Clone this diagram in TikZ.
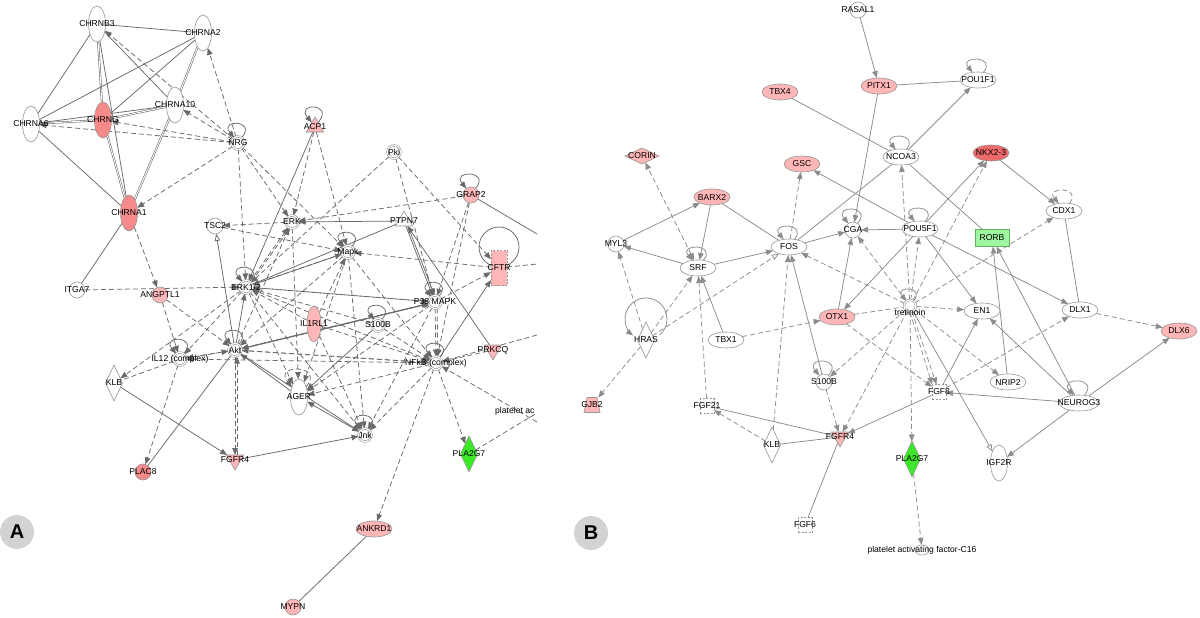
\documentclass[tikz,border=0pt]{standalone}
\usepackage{fontspec}
\setmainfont{Liberation Sans}
\usetikzlibrary{shapes.geometric,arrows.meta}
\definecolor{eA}{RGB}{105,105,105}
\definecolor{eB}{RGB}{140,140,140}
\definecolor{bd}{RGB}{150,150,150}
\definecolor{pk}{RGB}{255,182,182}
\definecolor{pk2}{RGB}{246,138,138}
\definecolor{rd}{RGB}{238,105,105}
\definecolor{gr}{RGB}{60,232,40}
\definecolor{lgr}{RGB}{160,245,160}
\definecolor{lgrb}{RGB}{100,175,100}
\definecolor{circg}{RGB}{211,211,211}
\colorlet{ec}{eA}
\pgfdeclarelayer{bg}
\pgfsetlayers{bg,main}
\newcommand\sloop[3][ar]{\draw[#1] (#2.55) .. controls +(50:#3) and +(130:#3) .. (#2.125);}
\tikzset{
  every node/.style={font=\fontsize{8.6}{9.5}\selectfont},
  lab/.style={label={center:#1}},
  nb/.style={draw=bd, line width=0.6pt, inner sep=0pt, outer sep=0pt, fill=white},
  vell/.style={nb, ellipse, minimum width=17pt, minimum height=36pt},
  hell/.style={nb, ellipse, minimum width=36pt, minimum height=16pt},
  circ/.style={nb, circle, minimum size=16pt},
  dcirc/.style={nb, circle, minimum size=13pt, double=white, double distance=1.1pt},
  tri/.style={nb, regular polygon, regular polygon sides=3, minimum size=20pt},
  dtri/.style={tri, shape border rotate=180},
  vdia/.style={nb, diamond, minimum width=17pt, minimum height=36pt},
  hdia/.style={nb, diamond, minimum width=34pt, minimum height=16pt},
  rbox/.style={nb, rectangle, minimum width=16pt, minimum height=35pt},
  dbox/.style={nb, rectangle, dash pattern=on 2pt off 1.5pt, minimum width=14pt, minimum height=15pt},
  ed/.style={draw=ec, line width=0.75pt},
  ar/.style={ed, -{Triangle[length=7pt,width=5.5pt]}},
  oa/.style={ed, -{Triangle[open,length=7pt,width=5.5pt,fill=white]}},
  ba/.style={ed, {Triangle[length=7pt,width=5.5pt]}-{Triangle[length=7pt,width=5.5pt]}},
  dpat/.style={dash pattern=on 5pt off 3pt},
  da/.style={ar, dpat},
  dl/.style={ed, dpat},
  dba/.style={ba, dpat},
  doa/.style={oa, dpat},
  dd/.style={draw=ec, line width=0.55pt, double=white, double distance=0.9pt},
  shr/.style={transform canvas={shift={(2pt,0pt)}}},
  panel/.style={circle, fill=circg, minimum size=34pt, inner sep=0pt, font=\fontsize{20}{20}\selectfont\bfseries},
}
\begin{document}
\begin{tikzpicture}[x=1pt,y=1pt]
\useasboundingbox (0,0) rectangle (1200,-618);
\begin{pgfonlayer}{bg}
\fill[white] (0,0) rectangle (1200,-618);
\end{pgfonlayer}

%================ PANEL A =================
\begin{scope}
\colorlet{ec}{eA}
\node[vell,lab=CHRNB3] (CHRNB3) at (97,-24) {};
\node[vell,lab=CHRNA2] (CHRNA2) at (203,-33) {};
\node[vell,lab=CHRNA10] (CHRNA10) at (175,-105) {};
\node[vell,fill=pk2,lab=CHRNG] (CHRNG) at (103,-120) {};
\node[vell,lab=CHRNA6] (CHRNA6) at (31,-124) {};
\node[dcirc,lab=NRG] (NRG) at (238,-143) {};
\node[vell,fill=pk2,lab=CHRNA1] (CHRNA1) at (129,-213) {};
\node[tri,fill=pk,lab=ACP1] (ACP1) at (315,-127) {};
\node[dcirc,lab=Pki] (Pki) at (394,-152) {};
\node[circ,fill=pk,lab=GRAP2] (GRAP2) at (471,-195) {};
\node[circ,lab=TSC2] (TSC2) at (215,-226) {};
\node[dcirc,lab=ERK] (ERK) at (292,-222) {};
\node[tri,lab=PTPN7] (PTPN7) at (404,-221) {};
\node[dcirc,lab=Mapk] (Mapk) at (348,-252) {};
\node[rbox,fill=pk,dash pattern=on 2pt off 1.5pt,lab=CFTR] (CFTR) at (499,-268) {};
\node[dcirc,lab=ERK1/2] (ERK12) at (246,-287) {};
\node[dcirc,lab=P38 MAPK] (P38) at (435,-302) {};
\node[vell,minimum width=14pt,fill=pk,lab=IL1RL1] (IL1RL1) at (314,-324) {};
\node[dcirc,lab=S100B] (S100Ba) at (378,-325) {};
\node[circ,lab=ITGA7] (ITGA7) at (77,-290) {};
\node[circ,fill=pk,lab=ANGPTL1] (ANGPTL1) at (160,-295) {};
\node[dcirc,lab=Akt] (Akt) at (235,-350) {};
\node[dcirc,lab=IL12 (complex)] (IL12) at (180,-359) {};
\node[vdia,lab=KLB] (KLBa) at (114,-383) {};
\node[dcirc,lab=NFkB (complex)] (NFkB) at (436,-363) {};
\node[dtri,fill=pk,lab=PRKCQ] (PRKCQ) at (493,-350) {};
\node[vell,lab=AGER] (AGER) at (299,-397) {};
\node[dcirc,lab=Jnk] (Jnk) at (365,-435) {};
\node[dtri,fill=pk,lab=FGFR4] (FGFR4a) at (235,-460) {};
\node[circ,fill=pk2,lab=PLAC8] (PLAC8) at (143,-472) {};
\node[vdia,fill=gr,lab=PLA2G7] (PLA2G7a) at (469,-454) {};
\node[anchor=west,inner sep=0pt] (platA) at (495,-411) {platelet ac};
\node[hell,fill=pk,lab=ANKRD1] (ANKRD1) at (374,-529) {};
\node[circ,fill=pk,lab=MYPN] (MYPN) at (293,-607) {};
\node[panel] (labA) at (17,-532) {A};
\coordinate (offG) at (537,-234);
\coordinate (offC) at (537,-264);
\coordinate (offN) at (537,-335);
\coordinate (pA1) at (537,-422);
\coordinate (pA2) at (537,-413);

\begin{pgfonlayer}{bg}
% self loops
\sloop{NRG}{24}
\sloop{ACP1}{26}
\sloop{GRAP2}{24}
\sloop{Mapk}{24}
\sloop{ERK12}{24}
\sloop{P38}{24}
\sloop{S100Ba}{24}
\sloop{Akt}{24}
\sloop{IL12}{24}
\sloop{NFkB}{24}
\sloop{Jnk}{24}
\sloop[da]{AGER}{30}
\draw[ed] (499,-247) circle (20);

% solid
\draw[ed] (CHRNB3) -- (CHRNA2);
\draw[ed] (CHRNB3) -- (CHRNA6);
\draw[dd] (CHRNB3) -- (CHRNG);
\draw[ed] (CHRNB3) -- (CHRNA1);
\draw[ed] (CHRNB3) -- (CHRNA10);
\draw[ed] (CHRNA2) -- (CHRNA6);
\draw[ed] (CHRNA2) -- (CHRNG);
\draw[dd] (CHRNA2) -- (CHRNA10);
\draw[dd] (CHRNA6) -- (CHRNG);
\draw[ed] (CHRNA6) -- (CHRNA10);
\draw[ed] (CHRNA6) -- (CHRNA1);
\draw[dd] (CHRNG) -- (CHRNA10);
\draw[dd] (CHRNG) -- (CHRNA1);
\draw[dd] (CHRNA10) -- (CHRNA1);
\draw[ed] (CHRNA1) -- (ITGA7);
\draw[ed] (Akt) -- (PLAC8);
\draw[ed] (ANKRD1) -- (MYPN);
\draw[ed] (GRAP2) -- (offG);
\draw[ar] (ACP1) -- (ERK12);
\draw[ar] (PTPN7) -- (ERK);
\draw[ar] (PRKCQ) -- (PTPN7);
\draw[ar] (PTPN7) -- (P38);
\draw[ar,shr] (PTPN7) -- (P38);
\draw[oa] (Akt) -- (TSC2);
\draw[ar] (ERK12) -- (Mapk);
\draw[ed] (ERK12) -- (PTPN7);
\draw[ar] (NFkB) -- (CFTR);
\draw[ar] (S100Ba) -- (AGER);
\draw[ar] (Akt) -- (P38);
\draw[ar,shr] (Akt) -- (P38);
\draw[ba] (AGER) -- (Jnk);
\draw[ar] (Akt) -- (Jnk);
\draw[ar] (FGFR4a) -- (Jnk);
\draw[ar] (KLBa) -- (FGFR4a);
\draw[ar] (Akt) -- (ERK12);
\draw[ar] (AGER) -- (Akt);

% dashed
\draw[da] (NRG) -- (CHRNB3);
\draw[da] (NRG) -- (CHRNA2);
\draw[da] (NRG) -- (CHRNA10);
\draw[da] (NRG) -- (CHRNG);
\draw[da] (NRG) -- (CHRNA6);
\draw[da] (NRG) -- (CHRNA1);
\draw[da] (NRG) -- (ERK);
\draw[da] (NRG) -- (ERK12);
\draw[da] (NRG) -- (Mapk);
\draw[da] (ACP1) -- (ERK);
\draw[da] (ACP1) -- (Mapk);
\draw[da] (Pki) -- (ERK12);
\draw[da] (Pki) -- (P38);
\draw[da] (Pki) -- (CFTR);
\draw[da] (GRAP2) -- (ERK);
\draw[da] (GRAP2) -- (P38);
\draw[da] (GRAP2) -- (NFkB);
\draw[da] (ERK) -- (TSC2);
\draw[da] (TSC2) -- (Mapk);
\draw[da] (ERK12) -- (ERK);
\draw[da,shr] (ERK12) -- (ERK);
\draw[da] (Akt) -- (ERK);
\draw[da] (ERK) -- (AGER);
\draw[da] (CFTR) -- (Mapk);
\draw[da] (P38) -- (ERK12);
\draw[da] (Mapk) -- (AGER);
\draw[da] (Mapk) -- (Jnk);
\draw[da] (Mapk) -- (NFkB);
\draw[da] (Mapk) -- (ERK12);
\draw[da] (Mapk) -- (Akt);
\draw[da] (ERK12) -- (NFkB);
\draw[da] (ERK12) -- (P38);
\draw[da] (ERK12) -- (Jnk);
\draw[da] (ERK12) -- (AGER);
\draw[da] (ERK12) -- (KLBa);
\draw[da] (ERK12) -- (IL12);
\draw[da] (IL12) -- (Akt);
\draw[da] (Akt) -- (IL12);
\draw[da] (NFkB) -- (IL12);
\draw[da] (NFkB) -- (Akt);
\draw[da] (Akt) -- (NFkB);
\draw[da] (Akt) -- (FGFR4a);
\draw[da,shr] (FGFR4a) -- (Akt);
\draw[da] (IL12) -- (PLAC8);
\draw[dl] (IL12) -- (KLBa);
\draw[da] (ITGA7) -- (ERK12);
\draw[da] (CHRNA1) -- (ANGPTL1);
\draw[da] (ANGPTL1) -- (IL12);
\draw[da] (ANGPTL1) -- (Akt);
\draw[da] (IL1RL1) -- (NFkB);
\draw[da] (IL1RL1) -- (Jnk);
\draw[da] (IL1RL1) -- (ERK12);
\draw[da] (IL1RL1) -- (Mapk);
\draw[da] (P38) -- (NFkB);
\draw[da,shr] (P38) -- (NFkB);
\draw[da] (P38) -- (CFTR);
\draw[da] (P38) -- (Jnk);
\draw[da] (P38) -- (AGER);
\draw[da] (P38) -- (Akt);
\draw[da] (S100Ba) -- (NFkB);
\draw[da] (S100Ba) -- (ERK12);
\draw[da] (NFkB) -- (Jnk);
\draw[da] (NFkB) -- (AGER);
\draw[da] (NFkB) -- (PLA2G7a);
\draw[da] (NFkB) -- (ANKRD1);
\draw[da] (PRKCQ) -- (NFkB);
\draw[da] (pA1) -- (NFkB);
\draw[dl] (PLA2G7a) -- (pA2);
\draw[dl] (CFTR) -- (offC);
\draw[da] (offN) -- (NFkB);
\end{pgfonlayer}
\end{scope}

%================ PANEL B =================
\begin{scope}
\colorlet{ec}{eB}
\node[circ,lab=RASAL1] (RASAL1) at (858,-10) {};
\node[hell,fill=pk,lab=PITX1] (PITX1) at (879,-86) {};
\node[hell,lab=POU1F1] (POU1F1) at (978,-80) {};
\node[hell,fill=pk,lab=TBX4] (TBX4) at (780,-92) {};
\node[hdia,fill=pk,lab=CORIN] (CORIN) at (642,-156) {};
\node[hell,fill=pk,lab=GSC] (GSC) at (802,-164) {};
\node[hell,lab=NCOA3] (NCOA3) at (901,-157) {};
\node[hell,fill=rd,lab=NKX2-3] (NKX23) at (991,-153) {};
\node[hell,fill=pk,lab=BARX2] (BARX2) at (712,-197) {};
\node[hell,lab=CDX1] (CDX1) at (1064,-211) {};
\node[circ,lab=CGA] (CGA) at (853,-230) {};
\node[hell,lab=POU5F1] (POU5F1) at (920,-229) {};
\node[nb,rectangle,fill=lgr,draw=lgrb,minimum width=34pt,minimum height=17pt,lab=RORB] (RORB) at (992,-238) {};
\node[circ,lab=MYL3] (MYL3) at (616,-244) {};
\node[hell,lab=FOS] (FOS) at (789,-247) {};
\node[hell,lab=SRF] (SRF) at (698,-268) {};
\node[dcirc,minimum size=12pt,label={[yshift=-6pt]center:tretinoin}] (tret) at (910,-306) {};
\node[hell,fill=pk,lab=OTX1] (OTX1) at (837,-317) {};
\node[hell,lab=EN1] (EN1) at (982,-311) {};
\node[hell,lab=DLX1] (DLX1) at (1080,-310) {};
\node[hell,fill=pk,lab=DLX6] (DLX6) at (1179,-331) {};
\node[vdia,lab=HRAS] (HRAS) at (646,-340) {};
\node[hell,lab=TBX1] (TBX1) at (726,-340) {};
\node[circ,lab=S100B] (S100Bb) at (824,-382) {};
\node[hell,lab=NRIP2] (NRIP2) at (1008,-382) {};
\node[dbox,lab=FGF8] (FGF8) at (939,-392) {};
\node[hell,minimum width=40pt,lab=NEUROG3] (NEUROG3) at (1079,-403) {};
\node[nb,rectangle,draw=none,fill=none,minimum width=16pt,minimum height=15pt] (GJB2) at (592,-405) {};
\filldraw[fill=pk,draw=bd,line width=0.6pt] (GJB2.south west) -- (GJB2.south east) -- ([xshift=-3pt]GJB2.north east) -- ([xshift=3pt]GJB2.north west) -- cycle;
\node at (GJB2) {GJB2};
\node[dbox,lab=FGF21] (FGF21) at (707,-406) {};
\node[vdia,lab=KLB] (KLBb) at (772,-445) {};
\node[dtri,fill=pk,lab=FGFR4] (FGFR4b) at (840,-437) {};
\node[vdia,fill=gr,lab=PLA2G7] (PLA2G7b) at (912,-459) {};
\node[vell,lab=IGF2R] (IGF2R) at (999,-463) {};
\node[dbox,lab=FGF6] (FGF6) at (805,-525) {};
\node[nb,ellipse,minimum width=14pt,minimum height=10pt,lab=platelet activating factor-C16] (platB) at (922,-550) {};
\node[panel] (labB) at (591,-533) {B};

\begin{pgfonlayer}{bg}
% self loops
\sloop{POU1F1}{22}
\sloop{NCOA3}{22}
\sloop{CGA}{24}
\sloop{POU5F1}{22}
\sloop{FOS}{22}
\sloop{SRF}{22}
\sloop{S100Bb}{24}
\sloop{NEUROG3}{24}
\sloop{tret}{20}
\sloop[da]{CDX1}{22}
\draw[ar] (646,-319) ++(-50:21) arc[start angle=-50,end angle=232,radius=21];

% solid arrows
\draw[ar] (RASAL1) -- (PITX1);
\draw[ar] (NCOA3) -- (POU1F1);
\draw[ar] (PITX1) -- (CGA);
\draw[ar] (MYL3) -- (BARX2);
\draw[ar] (BARX2) -- (SRF);
\draw[ar] (SRF) -- (MYL3);
\draw[ar] (SRF) -- (FOS);
\draw[ar] (TBX1) -- (SRF);
\draw[ar] (FOS) -- (CGA);
\draw[ar] (POU5F1) -- (CGA);
\draw[ar] (OTX1) -- (CGA);
\draw[ar] (POU5F1) -- (GSC);
\draw[ar] (POU5F1) -- (OTX1);
\draw[ar] (POU5F1) -- (NKX23);
\draw[ar] (POU5F1) -- (EN1);
\draw[ar] (POU5F1) -- (DLX1);
\draw[ar] (NKX23) -- (CDX1);
\draw[ar] (S100Bb) -- (FOS);
\draw[ar] (NRIP2) -- (RORB);
\draw[ar] (NEUROG3) -- (RORB);
\draw[ar] (NEUROG3) -- (EN1);
\draw[ar] (NEUROG3) -- (FGF8);
\draw[ar] (NEUROG3) -- (IGF2R);
\draw[ar] (NEUROG3) -- (DLX6);
\draw[ar] (FGF8) -- (EN1);
\draw[ar] (FGF8) -- (FGFR4b);
\draw[oa] (tret) -- (IGF2R);
% solid lines
\draw[ed] (PITX1) -- (POU1F1);
\draw[ed] (TBX4) -- (NCOA3);
\draw[ed] (NCOA3) -- (FOS);
\draw[ed] (NCOA3) -- (RORB);
\draw[ed] (BARX2) -- (FOS);
\draw[ed] (CDX1) -- (DLX1);
\draw[ed] (FGF21) -- (FGFR4b);
\draw[ed] (KLBb) -- (FGFR4b);
\draw[ed] (FGFR4b) -- (FGF6);
% dashed
\draw[da] (FOS) -- (GSC);
\draw[da] (HRAS) -- (MYL3);
\draw[da] (HRAS) -- (GJB2);
\draw[da] (HRAS) -- (SRF);
\draw[doa] (HRAS) -- (FOS);
\draw[dba] (SRF) -- (CORIN);
\draw[da] (FGF21) -- (SRF);
\draw[da] (KLBb) -- (FOS);
\draw[da] (KLBb) -- (FGF21);
\draw[da] (TBX1) -- (OTX1);
\draw[dl] (OTX1) -- (tret);
\draw[da] (tret) -- (FOS);
\draw[da] (tret) -- (CGA);
\draw[da] (tret) -- (POU5F1);
\draw[da] (tret) -- (NCOA3);
\draw[da] (tret) -- (NKX23);
\draw[da] (tret) -- (CDX1);
\draw[da] (tret) -- (EN1);
\draw[da] (tret) -- (FGF8);
\draw[da] (tret.south) -- (FGF8.north west);
\draw[da] (tret) -- (NRIP2);
\draw[da] (tret) -- (PLA2G7b);
\draw[da] (tret) -- (S100Bb);
\draw[da] (tret) -- (FGFR4b);
\draw[da] (OTX1) -- (FGF8);
\draw[da] (FGF8) -- (DLX1);
\draw[da] (DLX1) -- (DLX6);
\draw[da] (S100Bb) -- (FGFR4b);
\draw[da] (PLA2G7b) -- (platB);
\end{pgfonlayer}
\end{scope}
\end{tikzpicture}
\end{document}
